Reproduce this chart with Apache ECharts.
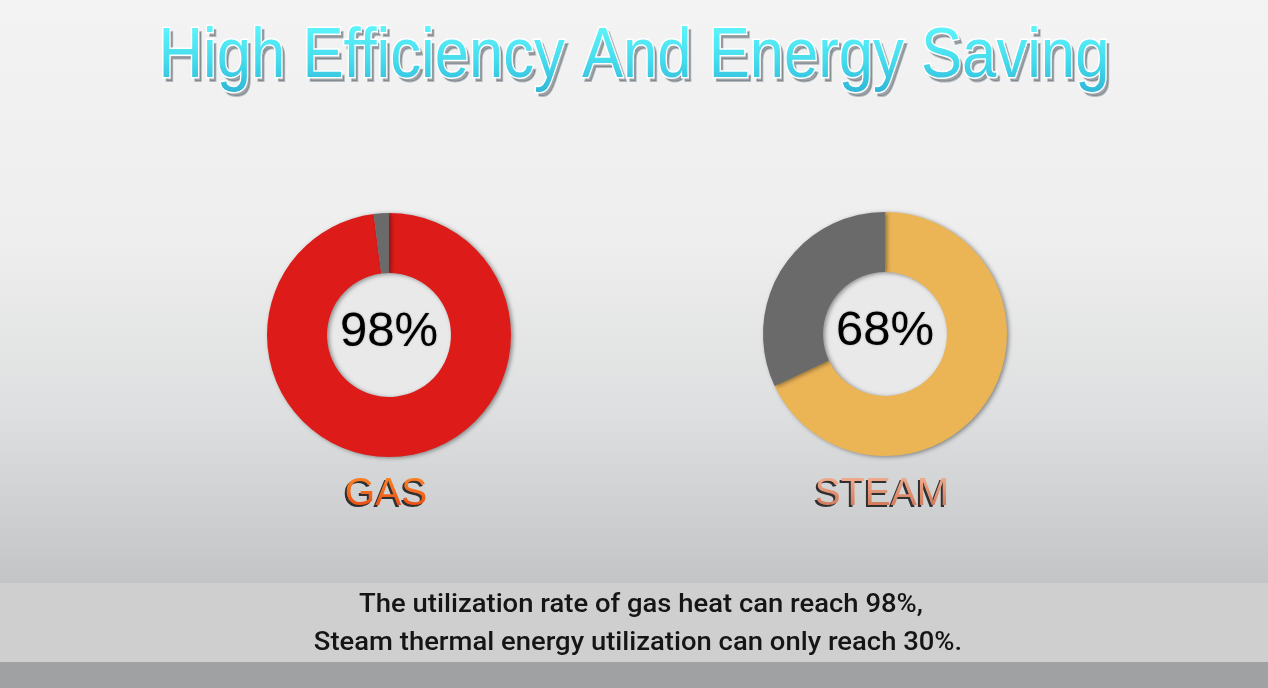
<!DOCTYPE html>
<html><head><meta charset="utf-8">
<script src="https://cdn.jsdelivr.net/npm/echarts@6/dist/echarts.min.js"></script>
<style>html,body{margin:0;padding:0;}#c{width:1268px;height:688px;}</style>
</head><body><div id="c"></div>
<script>
// ---- data ----
const categories = ['GAS', 'STEAM'];
const utilized = [98, 68];
const remaining = [2, 32];
const titleText = 'High Efficiency And Energy Saving';
const captionLines = [
  'The utilization rate of gas heat can reach 98%,',
  'Steam thermal energy utilization can only reach 30%.'
];

// ---- styles ----
const centers = [[389, 335], [885, 334]];
const mainColors = ['#dd1c1a', '#ebb556'];
const restColor = '#6a6a6a';
const labelGrad = [
  ['#ff8a2a', '#e6400c'],
  ['#f6b496', '#c8684a']
];

const chart = echarts.init(document.getElementById('c'), null, {renderer: 'canvas'});

const series = [];
categories.forEach((cat, i) => {
  series.push({
    type: 'pie', silent: true, radius: [0, 62], center: centers[i],
    label: {show: false}, labelLine: {show: false},
    itemStyle: {color: '#e9e9e9'},
    data: [{value: 1, name: cat + '-inner'}], z: 1
  });
  series.push({
    type: 'pie', silent: true, radius: [62, 122], center: centers[i],
    startAngle: 90, clockwise: true,
    avoidLabelOverlap: false,
    labelLine: {show: false},
    itemStyle: {shadowBlur: 4, shadowColor: 'rgba(0,0,0,0.4)', shadowOffsetX: 2, shadowOffsetY: 1},
    data: [
      {value: utilized[i], name: cat,
       itemStyle: {color: mainColors[i]},
       label: {show: true, position: 'center', formatter: '{c}%',
         fontFamily: 'Liberation Sans, Arial', fontSize: 49, color: '#000',
         textShadowColor: 'rgba(0,0,0,0.3)', textShadowBlur: 2, offset: [0, -3]}},
      {value: remaining[i], name: cat + '-rest',
       itemStyle: {color: restColor}, label: {show: false}}
    ],
    z: 2
  });
});

const titleFont = {text: titleText, fontFamily: 'Liberation Sans, Arial', fontSize: 70,
  align: 'center', verticalAlign: 'middle'};
const tx = 634, ty = 58, tsx = 0.88;

const graphics = [
  {type: 'rect', z: -10, shape: {x: 0, y: 0, width: 1268, height: 688},
   style: {fill: new echarts.graphic.LinearGradient(0, 0, 0, 1, [
     {offset: 0, color: '#f3f3f3'},
     {offset: 0.35, color: '#eeeeee'},
     {offset: 0.6, color: '#dedfe0'},
     {offset: 0.85, color: '#c2c4c6'},
     {offset: 1, color: '#a7a9ab'}])}},
  {type: 'rect', z: -9, shape: {x: 0, y: 662, width: 1268, height: 26},
   style: {fill: '#9fa1a3'}},
  {type: 'rect', z: -8, shape: {x: 0, y: 583, width: 1268, height: 79},
   style: {fill: '#cfcfcf'}},
  // title shadow + white outline (base layer)
  {type: 'text', z: 10, x: tx + 3, y: ty + 4, scaleX: tsx,
   style: Object.assign({}, titleFont, {fill: 'rgba(90,100,110,0.55)', stroke: 'rgba(90,100,110,0.4)', lineWidth: 2,
     shadowColor: 'rgba(0,0,0,0.35)', shadowBlur: 4})},
  {type: 'text', z: 11, x: tx, y: ty, scaleX: tsx,
   style: Object.assign({}, titleFont, {fill: '#ffffff', stroke: '#ffffff', lineWidth: 3})},
  // title gradient fill (upper layer)
  {type: 'text', zlevel: 1, z: 1, x: tx, y: ty, scaleX: tsx,
   style: Object.assign({}, titleFont, {fill: '#45d8ec'})},
  {type: 'rect', zlevel: 1, z: 5, shape: {x: 100, y: 20, width: 1068, height: 80},
   style: {blend: 'source-atop', fill: new echarts.graphic.LinearGradient(0, 0, 0, 1, [
     {offset: 0, color: '#62f8fd'}, {offset: 0.5, color: '#46dced'}, {offset: 1, color: '#2aaed2'}])}},
  {type: 'text', z: 10, x: 641, y: 605, scaleX: 1.055,
   style: {text: captionLines[0], fontFamily: 'Roboto', fontSize: 26, fontWeight: 500,
     align: 'center', verticalAlign: 'middle', fill: '#151515'}},
  {type: 'text', z: 10, x: 638, y: 643, scaleX: 1.055,
   style: {text: captionLines[1], fontFamily: 'Roboto', fontSize: 26, fontWeight: 500,
     align: 'center', verticalAlign: 'middle', fill: '#151515'}}
];
categories.forEach((cat, i) => {
  const lf = {text: cat, fontFamily: 'Liberation Sans, Arial', fontSize: 39,
    align: 'center', verticalAlign: 'middle'};
  const lx = centers[i][0] - 3, ly = 494;
  graphics.push({type: 'text', z: 10, x: lx - 2, y: ly + 2,
    style: Object.assign({}, lf, {fill: 'rgba(20,20,20,0.85)', shadowColor: 'rgba(0,0,0,0.5)', shadowBlur: 2})});
  graphics.push({type: 'text', zlevel: 1, z: 1, x: lx, y: ly,
    style: Object.assign({}, lf, {fill: labelGrad[i][0]})});
  graphics.push({type: 'rect', zlevel: 1, z: 5, shape: {x: lx - 90, y: ly - 22, width: 180, height: 44},
    style: {blend: 'source-atop', fill: new echarts.graphic.LinearGradient(0, 0, 0, 1, [
      {offset: 0, color: labelGrad[i][0]}, {offset: 1, color: labelGrad[i][1]}])}});
});

chart.setOption({animation: false, graphic: graphics, series: series});
</script></body></html>
